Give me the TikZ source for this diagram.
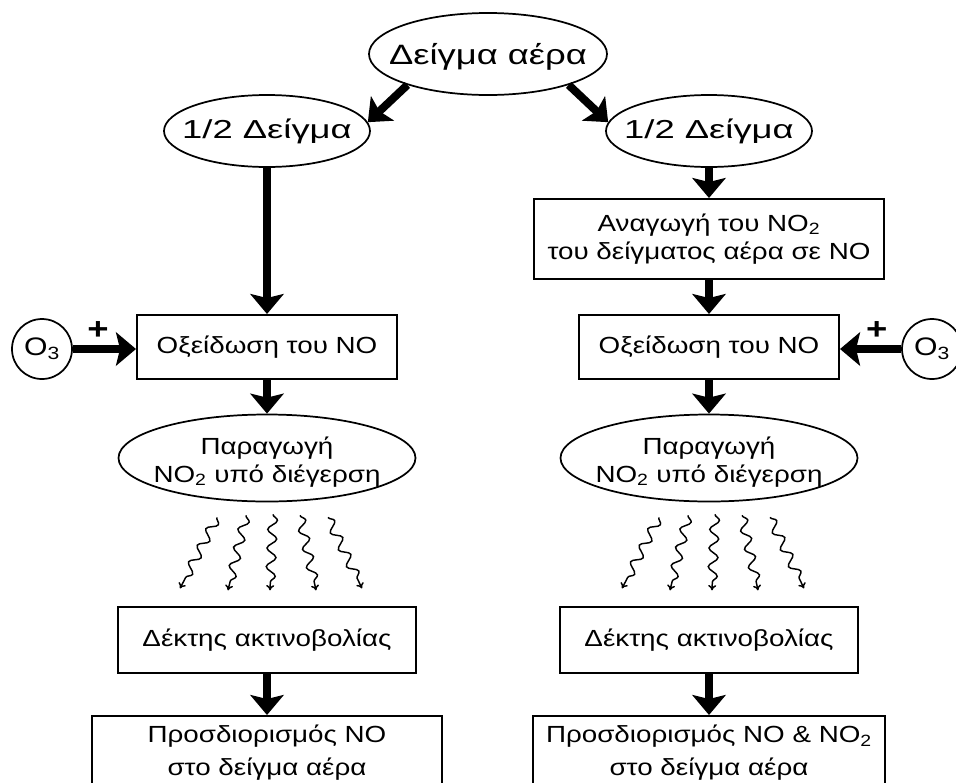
\documentclass[tikz,border=0pt]{standalone}
\usepackage{fontspec}
\setmainfont{Liberation Sans}[FakeStretch=1.19]
\newfontfamily\airfont{Liberation Sans}[FakeStretch=1.3]
\newfontfamily\halffont{Liberation Sans}[FakeStretch=1.4]
\usetikzlibrary{shapes.geometric,arrows.meta,decorations.pathmorphing}

\tikzset{
  box/.style={draw, line width=1.5pt, inner sep=0pt, align=center,
    font=\fontsize{17.5}{21}\selectfont},
  oval/.style={draw, ellipse, line width=1.3pt, inner sep=0pt},
  big/.style={line width=6pt, -{Stealth[length=15pt,width=25pt,inset=3pt]}},
  wave/.style={line width=1.1pt, -{To[length=4pt,width=6pt]}, decorate,
    decoration={snake, amplitude=3.5pt, segment length=14pt, post length=5pt}},
  plus/.style={above=4pt, pos=0.4, inner sep=0pt, font=\bfseries\fontsize{23}{23}\selectfont}
}

\begin{document}
\begin{tikzpicture}[x=0.75pt,y=0.75pt,yscale=-1]
\useasboundingbox (0,0) rectangle (956,782);

% top
\node [oval, minimum width=178.5pt, minimum height=61.5pt,
  label={[yshift=-2pt, font=\airfont\fontsize{21}{21}\selectfont]center:Δείγμα αέρα}] (air) at (488,54) {};
\node [oval, minimum width=154.5pt, minimum height=54pt,
  label={[font=\halffont\fontsize{19.5}{19.5}\selectfont]center:1/2 Δείγμα}] (halfL) at (267,131) {};
\node [oval, minimum width=154.5pt, minimum height=54pt,
  label={[font=\halffont\fontsize{19.5}{19.5}\selectfont]center:1/2 Δείγμα}] (halfR) at (709,131) {};

% right branch: reduction
\node [box, minimum width=262.5pt, minimum height=60pt] (red) at (709,239)
  {Αναγωγή του NO\textsubscript{2}\\του δείγματος αέρα σε NO};

% oxidation
\node [box, minimum width=195pt, minimum height=48pt] (oxL) at (267,347) {Οξείδωση του NO};
\node [box, minimum width=195pt, minimum height=48pt] (oxR) at (709,347) {Οξείδωση του NO};
\node [draw, circle, line width=1.3pt, minimum size=45pt, inner sep=0pt,
  font=\fontsize{19}{19}\selectfont] (o3L) at (42,349) {O\textsubscript{3}};
\node [draw, circle, line width=1.3pt, minimum size=45pt, inner sep=0pt,
  font=\fontsize{19}{19}\selectfont] (o3R) at (932,349) {O\textsubscript{3}};

% excitation
\node [oval, minimum width=222.75pt, minimum height=65.25pt,
  label={[yshift=-3pt, align=center, font=\fontsize{17.5}{21}\selectfont]center:Παραγωγή\\NO\textsubscript{2} υπό διέγερση}] (prodL) at (267,458) {};
\node [oval, minimum width=222.75pt, minimum height=65.25pt,
  label={[yshift=-3pt, align=center, font=\fontsize{17.5}{21}\selectfont]center:Παραγωγή\\NO\textsubscript{2} υπό διέγερση}] (prodR) at (709,458) {};

% detector and result
\node [box, minimum width=224pt, minimum height=49pt] (recL) at (267,640) {Δέκτης ακτινοβολίας};
\node [box, minimum width=224pt, minimum height=49pt] (recR) at (709,640) {Δέκτης ακτινοβολίας};
\node [box, anchor=north, minimum width=262pt, minimum height=55pt,
  font=\fontsize{17.5}{24.5}\selectfont] (resL) at (267,715)
  {Προσδιορισμός NO\\στο δείγμα αέρα};
\node [box, anchor=north, minimum width=264pt, minimum height=55pt,
  font=\fontsize{17.5}{24.5}\selectfont] (resR) at (709,715)
  {Προσδιορισμός NO \& NO\textsubscript{2}\\στο δείγμα αέρα};

% arrows
\draw [big] (air.201) -- (halfL.5);
\draw [big] (air.339) -- (halfR.175);
\draw [big] (halfL) -- (oxL);
\draw [big] (halfR) -- (red);
\draw [big] (red) -- (oxR);
\draw [big] (oxL) -- (prodL);
\draw [big] (oxR) -- (prodR);
\draw [big] (recL) -- (resL);
\draw [big] (recR) -- (resR);
\draw [big] (o3L) -- node [plus] {+} (o3L -| oxL.west);
\draw [big] (o3R) -- node [plus] {+} (o3R -| oxR.east);

% radiation
\foreach \n in {prodL,prodR}
  \foreach \a/\b/\c/\d in {-50/15/-37/71, -21/13/-18/75, 6/12/-3/76, 33/13/16/75, 61/15/34/71}
    \draw [wave] (\n.south) ++(\a,\b) -- ++(\c,\d);
\end{tikzpicture}
\end{document}
